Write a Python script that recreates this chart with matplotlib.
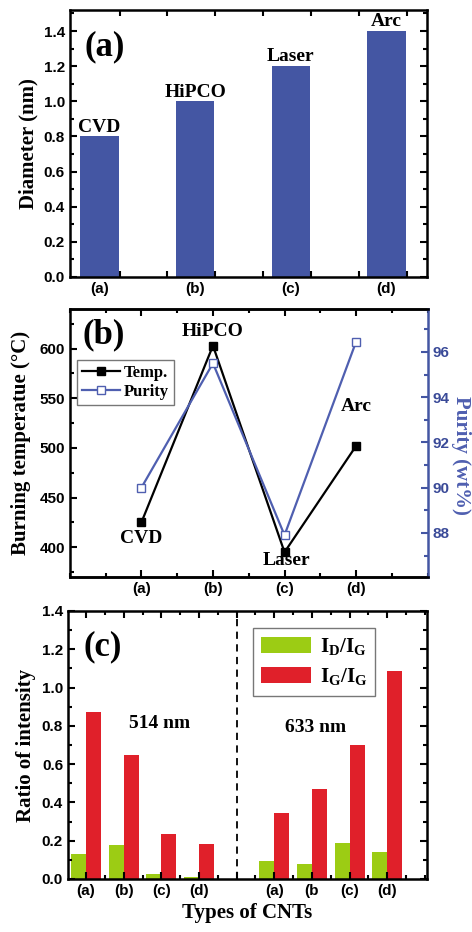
import matplotlib
matplotlib.use("Agg")
import matplotlib.pyplot as plt
from matplotlib.ticker import MultipleLocator, FixedLocator

plt.rcParams['font.family'] = ['Liberation Sans', 'DejaVu Sans']
plt.rcParams['font.weight'] = 'bold'

SERIF = 'Liberation Serif'

# ---- data ----
cnt_types = ["(a)", "(b)", "(c)", "(d)"]
cnt_names = ["CVD", "HiPCO", "Laser", "Arc"]
diameter = [0.8, 1.0, 1.2, 1.4]

burn_temp = [425, 603, 395, 502]
purity = [90.0, 95.5, 87.9, 96.45]

ratio_labels = ["(a)", "(b)", "(c)", "(d)", "", "(a)", "(b", "(c)", "(d)"]
id_ig_514 = [0.13, 0.18, 0.026, 0.01]
ig_ig_514 = [0.87, 0.65, 0.235, 0.183]
id_ig_633 = [0.095, 0.078, 0.19, 0.14]
ig_ig_633 = [0.343, 0.47, 0.70, 1.087]

BAR_BLUE = '#4456a3'
LINE_BLUE = '#4f5fb0'
GREEN = '#9ccc14'
RED = '#e0202a'


def style_axes(ax, lw=1.8):
    for s in ax.spines.values():
        s.set_linewidth(lw)
    ax.tick_params(which='both', direction='in', top=True, right=True,
                   width=1.5, labelsize=11)
    ax.tick_params(which='major', length=5)
    ax.tick_params(which='minor', length=3)
    for lab in ax.get_xticklabels() + ax.get_yticklabels():
        lab.set_fontweight('bold')


fig = plt.figure(figsize=(4.72, 9.32), dpi=100)

# ---------- (a) diameter ----------
ax1 = fig.add_axes([0.148, 0.7028, 0.756, 0.2865])
pos_a = list(range(1, len(diameter) + 1))
ax1.bar(pos_a, diameter, width=0.4, color=BAR_BLUE)
ax1.set_xlim(0.69, 4.42)
ax1.set_ylim(0, 1.52)
ax1.set_xticks(pos_a)
ax1.set_xticklabels(cnt_types)
ax1.xaxis.set_minor_locator(FixedLocator([1.21 + 0.5 * k for k in range(7)]))
ax1.yaxis.set_major_locator(MultipleLocator(0.2))
ax1.yaxis.set_minor_locator(MultipleLocator(0.1))
ax1.yaxis.set_major_formatter(plt.FormatStrFormatter('%.1f'))
style_axes(ax1)
ax1.tick_params(axis='x', which='major', length=0)
ax1.tick_params(axis='x', which='minor', length=4)
ax1.set_ylabel("Diameter (nm)", family=SERIF, fontsize=15, fontweight='bold', labelpad=4)
for p, d, name in zip(pos_a, diameter, cnt_names):
    ax1.annotate(name, (p, d), xytext=(0, 0.5), textcoords='offset points',
                 ha='center', va='bottom', family=SERIF, fontsize=14, fontweight='bold')
ax1.text(0.042, 0.861, "(a)", transform=ax1.transAxes, family=SERIF,
         fontsize=25, fontweight='bold', ha='left', va='center')

# ---------- (b) burning temperature / purity ----------
ax2 = fig.add_axes([0.148, 0.3809, 0.758, 0.2876])
ax2r = ax2.twinx()
pos_b = list(range(1, len(burn_temp) + 1))
l1, = ax2.plot(pos_b, burn_temp, '-s', color='black', lw=1.6, ms=6,
               mfc='black', label='Temp.')
l2, = ax2r.plot(pos_b, purity, '-s', color=LINE_BLUE, lw=1.6, ms=6,
                mfc='white', mec=LINE_BLUE, label='Purity')
ax2.set_xlim(0, 5)
ax2.set_ylim(370, 640)
ax2r.set_ylim(86.05, 97.9)
ax2.set_xticks(pos_b)
ax2.set_xticklabels(cnt_types)
ax2.xaxis.set_minor_locator(MultipleLocator(0.5))
ax2.yaxis.set_major_locator(MultipleLocator(50))
ax2.yaxis.set_minor_locator(MultipleLocator(25))
ax2r.yaxis.set_major_locator(MultipleLocator(2))
ax2r.yaxis.set_minor_locator(MultipleLocator(1))
style_axes(ax2)
ax2.tick_params(right=False, which='both')
ax2.spines['right'].set_visible(False)
for s in ax2r.spines.values():
    s.set_linewidth(1.8)
ax2r.spines['right'].set_color(BAR_BLUE)
ax2r.spines['left'].set_visible(False)
ax2r.tick_params(which='both', direction='in', color=BAR_BLUE, width=1.5,
                 labelcolor='#3a4a98', labelsize=11)
ax2r.tick_params(which='major', length=5)
ax2r.tick_params(which='minor', length=3)
for lab in ax2r.get_yticklabels():
    lab.set_fontweight('bold')
ax2.set_ylabel("Burning temperatue (°C)", family=SERIF, fontsize=15,
               fontweight='bold', labelpad=6)
ax2r.set_ylabel("Purity (wt%)", family=SERIF, fontsize=15, fontweight='bold',
                color=LINE_BLUE, rotation=270, labelpad=-4)
ax2r.yaxis.set_label_coords(1.122, 0.455)
name_offsets = [(1.0, 409, 'CVD'), (2.0, 617, 'HiPCO'), (3.03, 387, 'Laser'), (4.0, 542, 'Arc')]
for x, y, name in name_offsets:
    ax2.text(x, y, name, family=SERIF, fontsize=14, fontweight='bold',
             ha='center', va='center')
ax2.text(0.034, 0.903, "(b)", transform=ax2.transAxes, family=SERIF,
         fontsize=25, fontweight='bold', ha='left', va='center')
leg = ax2.legend([l1, l2], ['Temp.', 'Purity'], loc='upper left',
                 bbox_to_anchor=(0.02, 0.81), fancybox=False, edgecolor='#555555',
                 prop={'family': SERIF, 'weight': 'bold', 'size': 12},
                 handlelength=2.3, handletextpad=0.2, borderpad=0.3,
                 labelspacing=0.2, borderaxespad=0)
leg.get_frame().set_linewidth(1.0)

# ---------- (c) Raman ratio ----------
ax3 = fig.add_axes([0.144, 0.0569, 0.761, 0.2876])
pos_514 = [1, 2, 3, 4]
pos_633 = [6, 7, 8, 9]
w = 0.4
ax3.bar([p - w / 2 for p in pos_514], id_ig_514, width=w, color=GREEN,
        label='I$_\\mathregular{D}$/I$_\\mathregular{G}$')
ax3.bar([p + w / 2 for p in pos_514], ig_ig_514, width=w, color=RED,
        label='I$_\\mathregular{G}$/I$_\\mathregular{G}$')
ax3.bar([p - w / 2 for p in pos_633], id_ig_633, width=w, color=GREEN)
ax3.bar([p + w / 2 for p in pos_633], ig_ig_633, width=w, color=RED)
ax3.axvline(5, color='black', ls=(0, (4, 3)), lw=1.3)
ax3.set_xlim(0.52, 10.06)
ax3.set_ylim(0, 1.4)
ax3.set_xticks(list(range(1, 10)))
ax3.set_xticklabels(ratio_labels)
ax3.xaxis.set_minor_locator(MultipleLocator(0.5))
ax3.yaxis.set_major_locator(MultipleLocator(0.2))
ax3.yaxis.set_minor_locator(MultipleLocator(0.1))
ax3.yaxis.set_major_formatter(plt.FormatStrFormatter('%.1f'))
style_axes(ax3)
ax3.set_ylabel("Ratio of intensity", family=SERIF, fontsize=15, fontweight='bold', labelpad=4)
ax3.set_xlabel("Types of CNTs", family=SERIF, fontsize=15, fontweight='bold', labelpad=4)
ax3.text(2.94, 0.814, "514 nm", family=SERIF, fontsize=14, fontweight='bold',
         ha='center', va='center')
ax3.text(7.09, 0.793, "633 nm", family=SERIF, fontsize=14, fontweight='bold',
         ha='center', va='center')
ax3.text(0.042, 0.866, "(c)", transform=ax3.transAxes, family=SERIF,
         fontsize=25, fontweight='bold', ha='left', va='center')
plt.rcParams['mathtext.fontset'] = 'custom'
plt.rcParams['mathtext.rm'] = 'Liberation Serif:bold'
leg3 = ax3.legend(loc='upper left', bbox_to_anchor=(0.515, 0.937), fancybox=False,
                  edgecolor='#555555',
                  prop={'family': SERIF, 'weight': 'bold', 'size': 15},
                  handlelength=2.4, handleheight=0.8, handletextpad=0.4,
                  borderpad=0.4, labelspacing=0.4, borderaxespad=0)
leg3.get_frame().set_linewidth(1.0)

fig.savefig("out.png", dpi=100)
